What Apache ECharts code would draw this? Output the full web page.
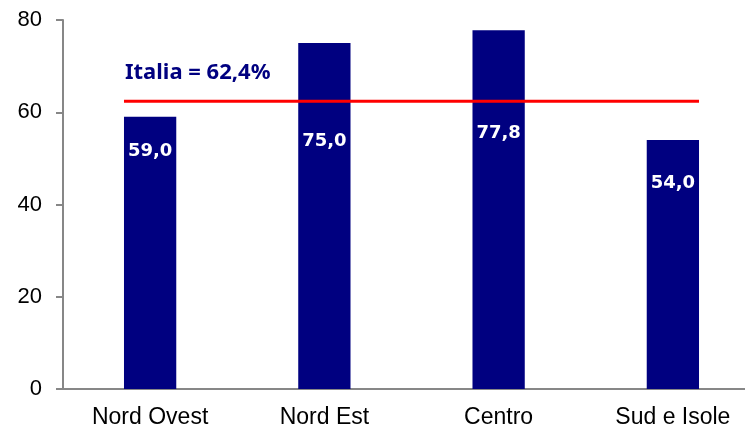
<!DOCTYPE html>
<html>
<head>
<meta charset="utf-8">
<script src="https://cdn.jsdelivr.net/npm/echarts@6/dist/echarts.min.js"></script>
<style>
  html, body { margin: 0; padding: 0; background: #ffffff; }
  #main { width: 745px; height: 429px; }
</style>
</head>
<body>
<div id="main"></div>
<script>
const categories = ['Nord Ovest', 'Nord Est', 'Centro', 'Sud e Isole'];
const values = [59.0, 75.0, 77.8, 54.0];
const italiaValue = 62.4;
const yTicks = [0, 20, 40, 60, 80];

// label distance from bar top (px), as placed in the original
const labelDist = [25, 89, 94, 34];

const chartDom = document.getElementById('main');
const myChart = echarts.init(chartDom);

const fmt = v => v.toFixed(1).replace('.', ',');

const option = {
  backgroundColor: '#ffffff',
  animation: false,
  title: {
    text: 'Italia = ' + fmt(italiaValue) + '%',
    left: 120,
    top: 57,
    textStyle: {
      fontFamily: 'Noto Sans',
      fontWeight: 'bold',
      fontSize: 22,
      color: '#000080'
    }
  },
  grid: {
    left: 63, top: 20, width: 697, height: 369,
    outerBoundsMode: 'none',
    containLabel: false
  },
  xAxis: [
    {
      type: 'category',
      data: categories,
      axisLine: { show: true, lineStyle: { color: '#878787', width: 2 } },
      axisTick: { show: false },
      axisLabel: {
        color: '#000',
        fontFamily: 'Liberation Sans',
        fontSize: 23,
        margin: 17
      }
    },
    {
      // hidden helper axis for the national average line
      type: 'value',
      min: 0,
      max: categories.length,
      show: false
    }
  ],
  yAxis: {
    type: 'value',
    min: yTicks[0],
    max: yTicks[yTicks.length - 1],
    interval: 20,
    axisLine: { show: true, lineStyle: { color: '#878787', width: 2 } },
    axisTick: { show: true, length: 7, lineStyle: { color: '#878787', width: 2 } },
    splitLine: { show: false },
    axisLabel: {
      color: '#000',
      fontFamily: 'Liberation Sans',
      fontSize: 22,
      margin: 21
    }
  },
  series: [
    {
      type: 'bar',
      barWidth: '30%',
      data: values.map((v, i) => ({
        value: v,
        label: { distance: labelDist[i] }
      })),
      itemStyle: { color: '#000080' },
      label: {
        show: true,
        position: 'insideTop',
        color: '#fff',
        fontFamily: 'DejaVu Sans',
        fontWeight: 'bold',
        fontSize: 18,
        formatter: p => fmt(p.value)
      }
    },
    {
      type: 'line',
      xAxisIndex: 1,
      data: [[0.35, italiaValue], [categories.length - 0.35, italiaValue]],
      symbol: 'none',
      lineStyle: { color: '#ff0000', width: 3 },
      z: 5
    }
  ]
};

myChart.setOption(option);
</script>
</body>
</html>
